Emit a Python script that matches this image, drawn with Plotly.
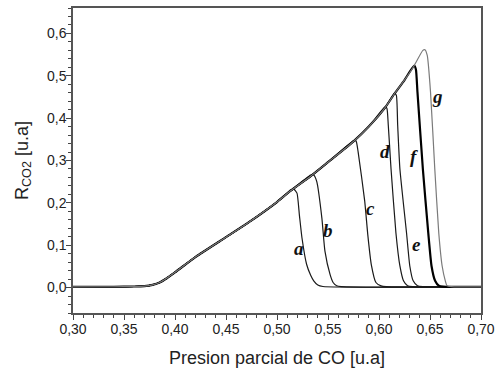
import plotly.graph_objects as go

# Shared rising branch (envelope)
env_x = [0.300, 0.340, 0.360, 0.370, 0.378, 0.385, 0.390, 0.400, 0.420, 0.450, 0.471,
         0.500, 0.513, 0.533, 0.550, 0.575, 0.590, 0.606, 0.615, 0.625, 0.634, 0.643]
env_y = [0.0016, 0.0020, 0.0025, 0.0035, 0.0065, 0.0120, 0.0190, 0.0360, 0.0720, 0.1190, 0.1520,
         0.2020, 0.2280, 0.2630, 0.2960, 0.3450, 0.3800, 0.4250, 0.4570, 0.4900, 0.5220, 0.5590]

labels = ["a", "b", "c", "d", "e", "f", "g"]

# Peak cap and falling branch of each curve
a_x = [0.5135, 0.5165, 0.5196, 0.5220, 0.5245, 0.5290, 0.5330, 0.5360, 0.5400, 0.5450, 0.7000]
a_y = [0.2310, 0.2325, 0.2230, 0.1700, 0.1170, 0.0550, 0.0290, 0.0160, 0.0060, 0.0025, 0.0015]
b_x = [0.5330, 0.5360, 0.5390, 0.5440, 0.5470, 0.5520, 0.5550, 0.5585, 0.5630, 0.7000]
b_y = [0.2655, 0.2660, 0.2500, 0.1640, 0.0860, 0.0310, 0.0120, 0.0045, 0.0022, 0.0015]
c_x = [0.5752, 0.5775, 0.5795, 0.5860, 0.5890, 0.5924, 0.5970, 0.6020, 0.6070, 0.7000]
c_y = [0.3470, 0.3460, 0.3210, 0.2040, 0.1250, 0.0550, 0.0120, 0.0040, 0.0022, 0.0015]
d_x = [0.6062, 0.6078, 0.6091, 0.6118, 0.6166, 0.6205, 0.6240, 0.6280, 0.6330, 0.7000]
d_y = [0.4270, 0.4230, 0.3836, 0.2800, 0.1290, 0.0510, 0.0160, 0.0045, 0.0022, 0.0015]
e_x = [0.6152, 0.6170, 0.6183, 0.6205, 0.6270, 0.6302, 0.6335, 0.6377, 0.6430, 0.7000]
e_y = [0.4585, 0.4540, 0.3836, 0.2800, 0.1290, 0.0510, 0.0160, 0.0045, 0.0022, 0.0015]
f_x = [0.6345, 0.6362, 0.6377, 0.6430, 0.6483, 0.6515, 0.6550, 0.6586, 0.6630, 0.7000]
f_y = [0.5240, 0.5150, 0.4620, 0.2800, 0.1290, 0.0510, 0.0160, 0.0045, 0.0022, 0.0015]
g_x = [0.6430, 0.6450, 0.6473, 0.6505, 0.6547, 0.6586, 0.6619, 0.6650, 0.6667, 0.6710, 0.7000]
g_y = [0.5600, 0.5615, 0.5480, 0.4620, 0.2800, 0.1290, 0.0510, 0.0160, 0.0045, 0.0022, 0.0015]

drops_x = [a_x, b_x, c_x, d_x, e_x, f_x, g_x]
drops_y = [a_y, b_y, c_y, d_y, e_y, f_y, g_y]

# Label positions (data coords)
lab_x = [0.5213, 0.5504, 0.5914, 0.6062, 0.6367, 0.6344, 0.6570]
lab_y = [0.0915, 0.1350, 0.1860, 0.3210, 0.1020, 0.3090, 0.4500]

colors = ["#1a1a1a", "#1a1a1a", "#1a1a1a", "#1a1a1a", "#1a1a1a", "#000000", "#7a7a7a"]
widths = [1.2, 1.2, 1.2, 1.2, 1.2, 2.2, 1.2]

fig = go.Figure()
for i, name in enumerate(labels):
    px0 = drops_x[i][0]
    xs = [x for x in env_x if x < px0 - 0.002] + drops_x[i]
    ys = [y for x, y in zip(env_x, env_y) if x < px0 - 0.002] + drops_y[i]
    fig.add_trace(go.Scatter(x=xs, y=ys, mode="lines", name=name,
                             line=dict(color=colors[i], width=widths[i], shape="spline", smoothing=0.5),
                             showlegend=False, hoverinfo="skip"))

for i, name in enumerate(labels):
    fig.add_annotation(x=lab_x[i], y=lab_y[i], text="<b><i>%s</i></b>" % name, showarrow=False,
                       font=dict(family="Liberation Serif", size=19, color="#111"))

axis_common = dict(showgrid=False, zeroline=False, showline=True, linecolor="#555", linewidth=1.5,
                   mirror=True, ticks="outside", ticklen=5, tickwidth=1.2, tickcolor="#444",
                   ticklabelstandoff=-3,
                   tickfont=dict(family="Liberation Sans", size=14, color="#222"))

fig.update_xaxes(range=[0.30, 0.70], dtick=0.05, tick0=0.30, tickformat=".2f",
                 minor=dict(dtick=0.01, ticks="outside", ticklen=3, tickwidth=1, tickcolor="#444"),
                 title=dict(text="Presion parcial de CO [u.a]", font=dict(family="Liberation Sans", size=18, color="#222"),
                            standoff=16),
                 **axis_common)
fig.update_yaxes(range=[-0.06, 0.66], dtick=0.1, tick0=0.0, tickformat=".1f",
                 minor=dict(dtick=0.02, ticks="outside", ticklen=3, tickwidth=1, tickcolor="#444"),
                 title=dict(text="R<sub>CO2</sub> [u.a]", font=dict(family="Liberation Sans", size=18, color="#222"),
                            standoff=14),
                 **axis_common)

fig.update_layout(width=501, height=371, margin=dict(l=73, r=15, t=6, b=58),
                  plot_bgcolor="white", paper_bgcolor="white", separators=", ")

fig.write_html("out.html", config={"displayModeBar": False},
               post_script="document.body.style.margin='0';")
